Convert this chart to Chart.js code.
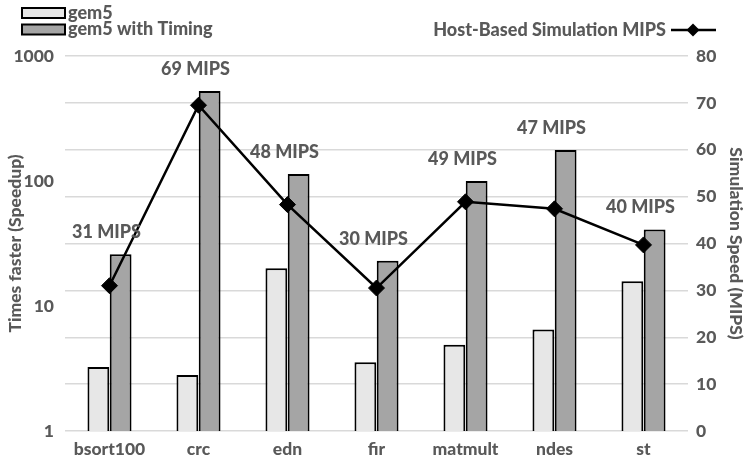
<!DOCTYPE html>
<html>
<head>
<meta charset="utf-8">
<script src="https://cdn.jsdelivr.net/npm/chart.js@4/dist/chart.umd.min.js"></script>
<style>
  html, body { margin: 0; padding: 0; background: #fff; }
  #wrap { width: 746px; height: 458px; position: relative; }
</style>
</head>
<body>
<div id="wrap"><canvas id="speedup"></canvas></div>
<script>
// Speedup of gem5 vs gem5 with timing, plus host-based MIPS
const benchmarks = ['bsort100', 'crc', 'edn', 'fir', 'matmult', 'ndes', 'st'];
const gem5Speedup = [3.25, 2.8, 20, 3.55, 4.9, 6.5, 15.8];
const timingSpeedup = [26, 525, 114, 23, 100, 177, 41];
const hostMips = [31, 69.5, 48.3, 30.5, 48.9, 47.4, 39.7];
const mipsLabels = ['31 MIPS', '69 MIPS', '48 MIPS', '30 MIPS', '49 MIPS', '47 MIPS', '40 MIPS'];
const speedupTicks = [1, 10, 100, 1000];

const TEXT = '#595959';
const FONT = 'Lato';
const WEIGHT = '900';
Chart.defaults.font.family = FONT;
Chart.defaults.font.weight = WEIGHT;
Chart.defaults.color = TEXT;

// labels above each category + the custom legends
const annotate = {
    id: 'annotate',
    afterDatasetsDraw(chart) {
        const ctx = chart.ctx;
        const line = chart.getDatasetMeta(0);
        const bars = chart.getDatasetMeta(2);
        ctx.save();
        ctx.font = WEIGHT + ' 18px ' + FONT;
        ctx.fillStyle = TEXT;
        ctx.textAlign = 'center';
        ctx.textBaseline = 'middle';
        mipsLabels.forEach((txt, i) => {
            const top = Math.min(bars.data[i].y, line.data[i].y);
            ctx.fillText(txt, line.data[i].x - 3, top - 22);
        });
        ctx.restore();
    },
    afterDraw(chart) {
        const ctx = chart.ctx;
        const ds = chart.data.datasets;
        ctx.save();
        ctx.font = WEIGHT + ' 18px ' + FONT;
        ctx.textBaseline = 'middle';
        // bar legend, top left
        [ds[1], ds[2]].forEach((d, i) => {
            const y = 13 + i * 16.5;
            ctx.fillStyle = d.backgroundColor;
            ctx.strokeStyle = '#000';
            ctx.lineWidth = 2;
            ctx.fillRect(22, y - 5, 43, 10);
            ctx.strokeRect(22, y - 5, 43, 10);
            ctx.fillStyle = TEXT;
            ctx.textAlign = 'left';
            ctx.fillText(d.label, 68, y);
        });
        // line legend, top right
        const ly = 30;
        ctx.fillStyle = TEXT;
        ctx.textAlign = 'right';
        ctx.fillText(ds[0].label, 666, ly);
        ctx.strokeStyle = '#000';
        ctx.lineWidth = 2.5;
        ctx.beginPath();
        ctx.moveTo(671, ly);
        ctx.lineTo(716, ly);
        ctx.stroke();
        ctx.fillStyle = '#000';
        ctx.beginPath();
        ctx.moveTo(693, ly - 6.5);
        ctx.lineTo(699.5, ly);
        ctx.lineTo(693, ly + 6.5);
        ctx.lineTo(686.5, ly);
        ctx.closePath();
        ctx.fill();
        ctx.restore();
    }
};

function draw() {
    new Chart(document.getElementById('speedup').getContext('2d'), {
        type: 'bar',
        data: {
            labels: benchmarks,
            datasets: [{
                type: 'line',
                label: 'Host-Based Simulation MIPS',
                data: hostMips,
                yAxisID: 'mips',
                order: 0,
                borderColor: '#000',
                borderWidth: 2.5,
                pointStyle: 'rectRot',
                pointRadius: 8,
                pointBackgroundColor: '#000',
                pointBorderColor: '#000',
                pointBorderWidth: 1,
                tension: 0,
            }, {
                label: 'gem5',
                data: gem5Speedup,
                yAxisID: 'speedup',
                order: 1,
                backgroundColor: '#e7e7e7',
                borderColor: '#000',
                borderWidth: 2,
                categoryPercentage: 0.5,
                barPercentage: 0.98,
            }, {
                label: 'gem5 with Timing',
                data: timingSpeedup,
                yAxisID: 'speedup',
                order: 2,
                backgroundColor: '#a5a5a5',
                borderColor: '#000',
                borderWidth: 2,
                categoryPercentage: 0.5,
                barPercentage: 0.98,
            }],
        },
        options: {
            responsive: true,
            maintainAspectRatio: false,
            animation: false,
            layout: { padding: { top: 56, left: 0, right: 0, bottom: 0 } },
            plugins: {
                legend: { display: false },
                tooltip: { enabled: false },
            },
            scales: {
                x: {
                    grid: { display: false },
                    border: { display: false },
                    ticks: { font: { size: 17.5, weight: WEIGHT }, color: TEXT, padding: 0 },
                    afterFit: (s) => { s.height = 27; },
                },
                speedup: {
                    type: 'logarithmic',
                    position: 'left',
                    min: 1,
                    max: 1000,
                    grid: { display: false },
                    border: { display: false },
                    afterBuildTicks: (s) => { s.ticks = speedupTicks.map((v) => ({ value: v })); },
                    ticks: { font: { size: 17.5, weight: WEIGHT }, color: TEXT, padding: 3, callback: (v) => String(v) },
                    title: { display: true, text: 'Times faster (Speedup)', font: { size: 17.5, weight: WEIGHT }, color: TEXT, padding: { top: 5, bottom: 0 } },
                    afterFit: (s) => { s.width = 65; },
                },
                mips: {
                    position: 'right',
                    min: 0,
                    max: 80,
                    grid: { color: '#d9d9d9', lineWidth: 1.5, drawTicks: false },
                    border: { display: false },
                    ticks: { stepSize: 10, font: { size: 17.5, weight: WEIGHT }, color: TEXT, padding: 8 },
                    title: { display: true, text: 'Simulation Speed (MIPS)', font: { size: 17.5, weight: WEIGHT }, color: TEXT, padding: 0 },
                    afterFit: (s) => { s.width = 58; },
                },
            },
        },
        plugins: [annotate],
    });
}

// make sure the heavy face is ready before drawing on the canvas
document.fonts.load(WEIGHT + ' 18px ' + FONT).then(draw, draw);
</script>
</body>
</html>
